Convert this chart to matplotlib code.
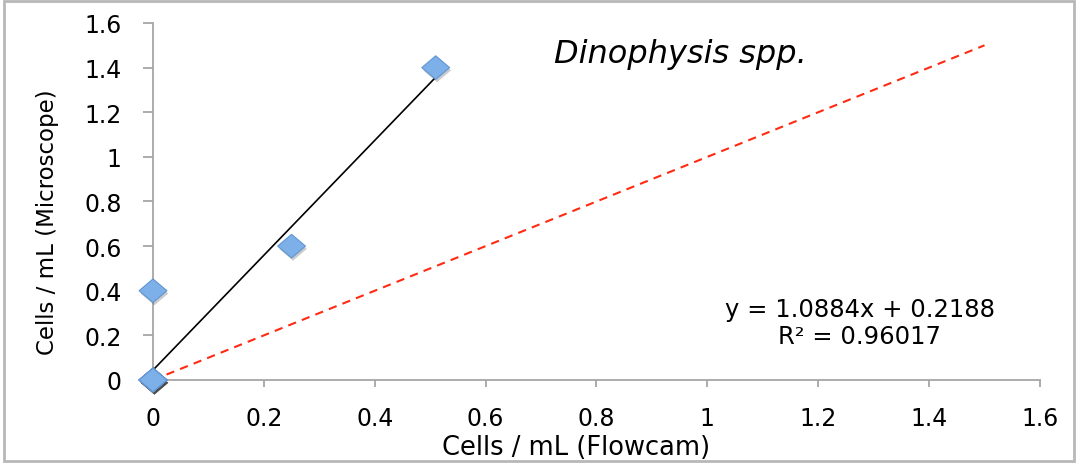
import numpy as np
import matplotlib
matplotlib.use("Agg")
import matplotlib.pyplot as plt
import matplotlib.patheffects as pe
from matplotlib.path import Path
from matplotlib.patches import Rectangle

# Paired counts: Flowcam vs. microscope (cells / mL); many samples were zero in both
flowcam = [0, 0, 0, 0, 0, 0, 0, 0, 0.25, 0.51]
microscope = [0, 0, 0, 0, 0, 0, 0, 0.4, 0.6, 1.4]

# 1:1 reference line
one_to_one = [0, 1.5]

x_ticks = [0, 0.2, 0.4, 0.6, 0.8, 1, 1.2, 1.4, 1.6]
y_ticks = [0, 0.2, 0.4, 0.6, 0.8, 1, 1.2, 1.4, 1.6]
x_tick_labels = ["0", "0.2", "0.4", "0.6", "0.8", "1", "1.2", "1.4", "1.6"]
y_tick_labels = ["0", "0.2", "0.4", "0.6", "0.8", "1", "1.2", "1.4", "1.6"]

title = "Dinophysis spp."
equation = "y = 1.0884x + 0.2188"
r_squared = "R² = 0.96017"

fig = plt.figure(figsize=(10.76, 4.64), dpi=100)
ax = fig.add_axes([0.1422, 0.1789, 0.9665 - 0.1422, 0.9483 - 0.1789])

axis_grey = "#a6a6a6"
font = ["DejaVu Sans"]

# flattened diamond marker (wider than tall)
diamond = Path([(-1, 0), (0, 0.85), (1, 0), (0, -0.85), (-1, 0)],
               [Path.MOVETO, Path.LINETO, Path.LINETO, Path.LINETO, Path.CLOSEPOLY])

# 1:1 line
ax.plot(one_to_one, one_to_one, color="#ff2a12", linestyle=(0, (4, 3)),
        linewidth=1.5, zorder=2)

# least-squares trend line across the observed Flowcam range
fx = np.asarray(flowcam)
fy = np.asarray(microscope)
slope, intercept = np.polyfit(fx, fy, 1)
xs = np.array([fx.min(), fx.max()])
ax.plot(xs, slope * xs + intercept, color="black", linewidth=1.2, zorder=3)

# data points
ax.plot(flowcam, microscope, linestyle="none", marker=diamond, markersize=20,
        markerfacecolor="#7db0e8", markeredgecolor="#6196d2", markeredgewidth=0.8,
        zorder=4, clip_on=False,
        path_effects=[pe.SimplePatchShadow(offset=(1, -2), alpha=0.25,
                                           shadow_rgbFace="#333333"),
                      pe.Normal()])

ax.set_xlim(0, 1.6)
ax.set_ylim(0, 1.6)
ax.set_xticks(x_ticks, x_tick_labels)
ax.set_yticks(y_ticks, y_tick_labels)

for side in ("top", "right"):
    ax.spines[side].set_visible(False)
for side in ("left", "bottom"):
    ax.spines[side].set_color(axis_grey)
    ax.spines[side].set_linewidth(1.3)

ax.tick_params(axis="y", direction="out", length=7.5, width=1.3, color=axis_grey,
               labelsize=17, pad=15, labelcolor="black", labelfontfamily="DejaVu Sans")
ax.tick_params(axis="x", direction="out", length=5, width=1.3, color=axis_grey,
               labelsize=17, pad=14, labelcolor="black", labelfontfamily="DejaVu Sans")

ax.set_xlabel("Cells / mL (Flowcam)", family=font, fontsize=18.5)
ax.xaxis.set_label_coords((576 - 153) / 887, (381 - 448) / 357)
ax.xaxis.label.set_va("center")

ax.set_ylabel("Cells / mL (Microscope)", family=font, fontsize=16.5)
ax.yaxis.set_label_coords((47 - 153) / 887, (381 - 222) / 357)
ax.yaxis.label.set_va("center")

ax.text((680 - 153) / 887, (381 - 55) / 357, title, transform=ax.transAxes,
        ha="center", va="center", style="italic", family=font, fontsize=23)
ax.text((860 - 153) / 887, (381 - 310) / 357, equation, transform=ax.transAxes,
        ha="center", va="center", family=font, fontsize=17.5)
ax.text((860 - 153) / 887, (381 - 337) / 357, r_squared, transform=ax.transAxes,
        ha="center", va="center", family=font, fontsize=17.5)

# outer frame around the chart area
fig.patches.append(Rectangle((0.004, 0.004), 0.994, 0.992, transform=fig.transFigure,
                             fill=False, edgecolor="#b8b8b8", linewidth=2.0))

fig.savefig("out.png", dpi=100, facecolor="white")
